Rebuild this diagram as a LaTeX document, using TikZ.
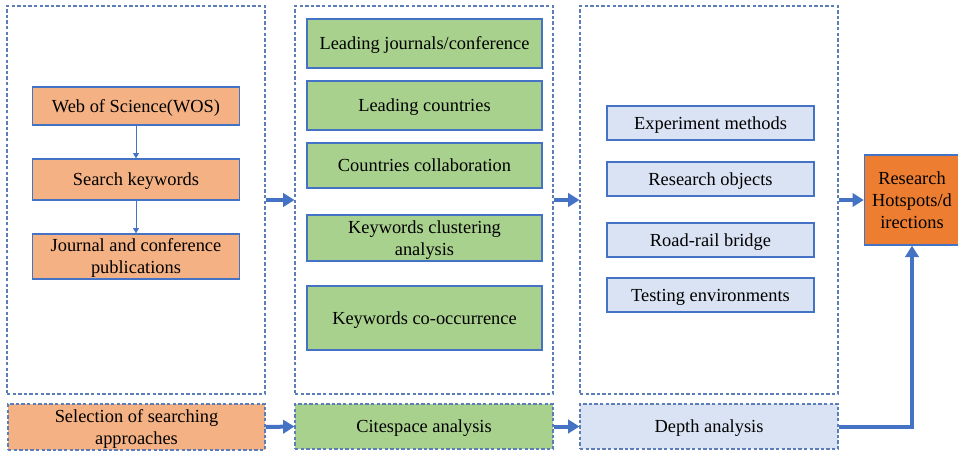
\documentclass[tikz,border=0pt]{standalone}
\usepackage{fontspec}
\setmainfont{Liberation Serif}
\usetikzlibrary{arrows.meta}
\definecolor{edgeblue}{HTML}{4472C4}
\definecolor{dashblue}{HTML}{5B7DB8}
\definecolor{orangefill}{HTML}{F4B183}
\definecolor{greenfill}{HTML}{A9D18E}
\definecolor{bluefill}{HTML}{DAE3F3}
\definecolor{hotfill}{HTML}{ED7D31}
\definecolor{flowblue}{HTML}{4472C4}
\tikzset{
  px/.style={x=0.75pt,y=-0.75pt},
  wh/.style 2 args={minimum width=#1*0.75pt,minimum height=#2*0.75pt},
  dashedge/.style={draw=dashblue,line width=0.8pt,dash pattern=on 2.6pt off 1.6pt},
  frame/.style={dashedge,inner sep=0pt},
  stage/.style={draw=edgeblue,line width=1pt,inner sep=0pt,align=center,
    text depth=0pt,font=\fontsize{13.8}{16.5}\selectfont},
  orangebox/.style={stage,fill=orangefill},
  greenbox/.style={stage,fill=greenfill},
  bluebox/.style={stage,fill=bluefill},
  bigflow/.style={draw=flowblue,line width=3pt,
    -{Triangle[width=10pt,length=8.5pt]}},
  thinflow/.style={draw=edgeblue,line width=0.6pt,
    -{Triangle[width=4.5pt,length=4pt]}},
}
\begin{document}
\begin{tikzpicture}[px]
\useasboundingbox (0,0) rectangle (958,451);

% stage frames
\node[frame,wh={258}{388}] (leftframe) at (136,200) {};
\node[frame,wh={258}{388}] (midframe) at (424,200) {};
\node[frame,wh={258}{388}] (rightframe) at (709,200) {};

% data collection
\node[orangebox,wh={207}{38}] (wos) at (136,106) {Web of Science(WOS)};
\node[orangebox,wh={207}{41}] (kw) at (136,179.5) {Search keywords};
\node[orangebox,wh={207}{45}] (pub) at (136,256.5) {Journal and conference\\publications};

% citespace results
\node[greenbox,wh={235}{49}] (lj) at (424.5,43.5) {Leading journals/conference};
\node[greenbox,wh={235}{49}] (lc) at (424.5,105.5) {Leading countries};
\node[greenbox,wh={235}{45}] (cc) at (424.5,165.5) {Countries collaboration};
\node[greenbox,wh={235}{46}] (kc) at (424.5,238) {Keywords clustering\\analysis};
\node[greenbox,wh={235}{64}] (ko) at (424.5,318) {Keywords co-occurrence};

% depth topics
\node[bluebox,wh={207}{34}] (em) at (710.5,123) {Experiment methods};
\node[bluebox,wh={207}{34}] (ro) at (710.5,179) {Research objects};
\node[bluebox,wh={207}{34}] (rr) at (710.5,240) {Road-rail bridge};
\node[bluebox,wh={207}{34}] (te) at (710.5,295) {Testing environments};

% method row
\node[orangebox,dashedge,wh={257}{46}] (sel) at (136.5,427) {Selection of searching\\approaches};
\node[greenbox,dashedge,wh={258}{45}] (cite) at (424,426.5) {Citespace analysis};
\node[bluebox,dashedge,wh={258}{45}] (depth) at (709,426.5) {Depth analysis};

% outcome
\node[stage,fill=hotfill,wh={95}{90}] (hot) at (912,200)
  {Research\\Hotspots/d\\irections};

% connectors
\draw[thinflow] (wos) -- (kw);
\draw[thinflow] (kw) -- (pub);
\draw[bigflow] (leftframe.east) -- (midframe.west);
\draw[bigflow] (midframe.east) -- (rightframe.west);
\draw[bigflow] (rightframe.east) -- (hot.west);
\draw[bigflow] (sel.east) -- (cite.west);
\draw[bigflow] (cite.east) -- (depth.west);
\draw[bigflow] (depth.east) -| (hot.south);
\end{tikzpicture}
\end{document}
